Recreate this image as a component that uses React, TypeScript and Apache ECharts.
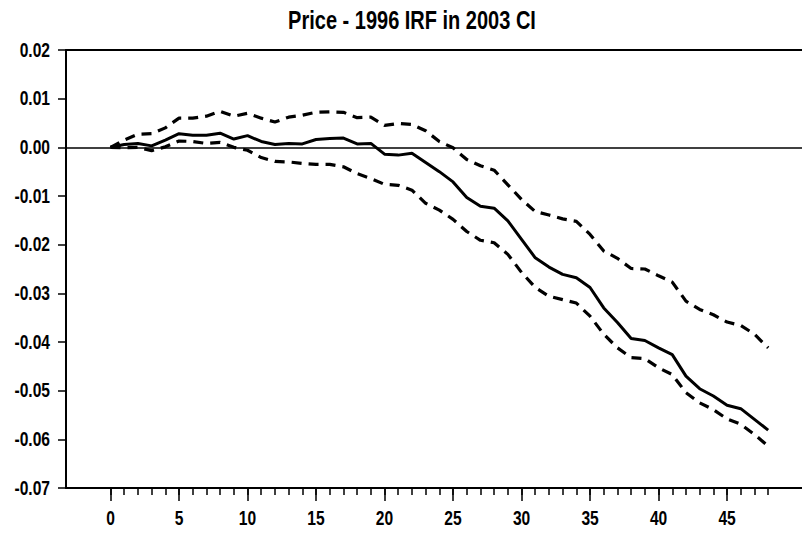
import React, { useEffect, useRef } from "react";
import * as echarts from "echarts";

const horizons: number[] = Array.from({ length: 49 }, (_, i) => i);
const irf: number[] = [
  0.0, 0.0006, 0.0008, 0.0003, 0.0015, 0.0028, 0.0025, 0.0025, 0.0029, 0.0017,
  0.0024, 0.0012, 0.0006, 0.0008, 0.0007, 0.0016, 0.0018, 0.0019, 0.0007, 0.0008,
  -0.0014, -0.0016, -0.0012, -0.0031, -0.005, -0.0071, -0.0103, -0.0121, -0.0125, -0.0151,
  -0.0189, -0.0227, -0.0246, -0.0261, -0.0268, -0.0288, -0.033, -0.036, -0.0393, -0.0397,
  -0.0412, -0.0426, -0.047, -0.0496, -0.0511, -0.053, -0.0537, -0.0559, -0.0581,
];
const upper: number[] = [
  0.0, 0.0015, 0.0027, 0.0028, 0.004, 0.006, 0.006, 0.0064, 0.0074, 0.0064,
  0.007, 0.006, 0.0052, 0.0062, 0.0066, 0.0072, 0.0073, 0.0072, 0.0061, 0.0062,
  0.0045, 0.0049, 0.0047, 0.0034, 0.0012, -0.0001, -0.0025, -0.0038, -0.0047, -0.0077,
  -0.0107, -0.0132, -0.0139, -0.0147, -0.0152, -0.0179, -0.0213, -0.0228, -0.0249, -0.025,
  -0.0264, -0.0277, -0.0316, -0.0333, -0.0344, -0.0359, -0.0366, -0.0384, -0.0412,
];
const lower: number[] = [
  0.0, -0.0001, 0.0, -0.0007, 0.0001, 0.0013, 0.0012, 0.0008, 0.001, 0.0,
  -0.0006, -0.0021, -0.0029, -0.003, -0.0033, -0.0035, -0.0035, -0.004, -0.0054, -0.0064,
  -0.0076, -0.0078, -0.0088, -0.0115, -0.0129, -0.0148, -0.0173, -0.0191, -0.0196, -0.022,
  -0.0257, -0.0288, -0.0306, -0.0313, -0.032, -0.0347, -0.0384, -0.0412, -0.0432, -0.0434,
  -0.0453, -0.0467, -0.0504, -0.0525, -0.0539, -0.0558, -0.0569, -0.059, -0.0614,
];
const majorTicks: number[] = [0, 5, 10, 15, 20, 25, 30, 35, 40, 45];
const yTicks: number[] = [0.02, 0.01, 0.0, -0.01, -0.02, -0.03, -0.04, -0.05, -0.06, -0.07];
const titleText = "Price - 1996 IRF in 2003 CI";

const FONT = "'Liberation Sans', Arial, sans-serif";
const fmtY = (v: number) => (Math.abs(v) < 1e-9 ? "0.00" : v.toFixed(2));

export default function App() {
  const ref = useRef<HTMLDivElement>(null);
  useEffect(() => {
    if (!ref.current) return;
    const chart = echarts.init(ref.current, undefined, { renderer: "svg" });
    const pts = (arr: number[]) => horizons.map((h, i) => [h, arr[i]]);
    const xMin = -3.25;
    const xMax = 50.47;
    chart.setOption({
      animation: false,
      backgroundColor: "#ffffff",
      grid: { left: 66, right: 0, top: 50, bottom: 49, containLabel: false },
      xAxis: [
        {
          type: "value",
          position: "bottom",
          min: xMin,
          max: xMax,
          axisLine: { show: true, onZero: false, lineStyle: { color: "#000", width: 2 } },
          axisTick: { show: true, customValues: horizons, length: 7, lineStyle: { color: "#000", width: 1.5 } },
          axisLabel: { show: false },
          splitLine: { show: false },
        },
        {
          type: "value",
          position: "bottom",
          min: xMin,
          max: xMax,
          axisLine: { show: false, onZero: false },
          axisTick: { show: true, customValues: majorTicks, length: 13, lineStyle: { color: "#000", width: 1.5 } },
          axisLabel: { show: false },
          splitLine: { show: false },
        },
        {
          type: "value",
          position: "top",
          min: xMin,
          max: xMax,
          axisLine: { show: true, onZero: false, lineStyle: { color: "#000", width: 2 } },
          axisTick: { show: false },
          axisLabel: { show: false },
          splitLine: { show: false },
        },
      ],
      yAxis: {
        type: "value",
        min: -0.07,
        max: 0.02,
        interval: 0.01,
        axisLine: { show: true, onZero: false, lineStyle: { color: "#000", width: 2 } },
        axisTick: { show: true, length: 8, lineStyle: { color: "#000", width: 1.5 } },
        axisLabel: { show: false },
        splitLine: { show: false },
      },
      series: [
        {
          name: "lower",
          type: "line",
          data: pts(lower),
          symbol: "none",
          lineStyle: { color: "#000", width: 3.2, type: [10, 7] },
          markLine: {
            silent: true,
            symbol: "none",
            label: { show: false },
            lineStyle: { color: "#000", width: 1.5, type: "solid" },
            data: [{ yAxis: 0 }],
          },
        },
        {
          name: "upper",
          type: "line",
          data: pts(upper),
          symbol: "none",
          lineStyle: { color: "#000", width: 3.2, type: [10, 7] },
        },
        {
          name: "irf",
          type: "line",
          data: pts(irf),
          symbol: "none",
          lineStyle: { color: "#000", width: 3, type: "solid" },
        },
      ],
    });

    const labelStyle = (text: string, align: string) => ({
      text,
      font: `bold 20px ${FONT}`,
      fill: "#000",
      textAlign: align,
      textVerticalAlign: "middle",
    });
    const graphics: any[] = [
      {
        type: "text",
        x: 412,
        y: 21,
        scaleX: 0.8,
        style: {
          text: titleText,
          font: `bold 25px ${FONT}`,
          fill: "#000",
          textAlign: "center",
          textVerticalAlign: "middle",
        },
      },
    ];
    majorTicks.forEach((v) => {
      const px = chart.convertToPixel({ xAxisIndex: 0 }, v) as number;
      graphics.push({ type: "text", x: px, y: 518, scaleX: 0.78, style: labelStyle(String(v), "center") });
    });
    yTicks.forEach((v) => {
      const py = chart.convertToPixel({ yAxisIndex: 0 }, v) as number;
      graphics.push({ type: "text", x: 50, y: py, scaleX: 0.78, style: labelStyle(fmtY(v), "right") });
    });
    chart.setOption({ graphic: graphics });

    return () => chart.dispose();
  }, []);
  return (
    <div
      ref={ref}
      style={{ position: "absolute", left: 0, top: 0, width: 802, height: 537 }}
    />
  );
}
